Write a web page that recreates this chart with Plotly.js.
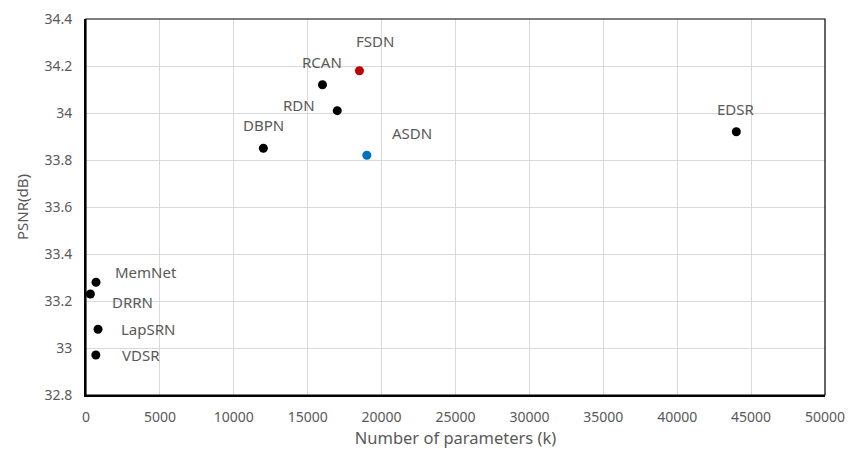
<!DOCTYPE html>
<html>
<head>
<meta charset="utf-8">
<script src="https://cdn.plot.ly/plotly-3.0.1.min.js"></script>
<style>html,body{margin:0;padding:0;background:#fff;}#chart{width:861px;height:454px;}</style>
</head>
<body>
<div id="chart"></div>
<script>
// Data
const models = ["VDSR", "DRRN", "LapSRN", "MemNet", "DBPN", "RCAN", "RDN", "EDSR", "FSDN", "ASDN"];
const params = [665, 297, 813, 677, 12000, 16000, 17000, 44000, 18500, 19000];
const psnr   = [32.97, 33.23, 33.08, 33.28, 33.85, 34.12, 34.01, 33.92, 34.18, 33.82];
const groups = ["other", "other", "other", "other", "other", "other", "other", "other", "fsdn", "asdn"];
const yTicks = [32.8, 33, 33.2, 33.4, 33.6, 33.8, 34, 34.2, 34.4];
const yTickText = ["32.8", "33", "33.2", "33.4", "33.6", "33.8", "34", "34.2", "34.4"];
const xTicks = [0, 5000, 10000, 15000, 20000, 25000, 30000, 35000, 40000, 45000, 50000];

// Styling (positions / colours)
const groupColor = {other: "#000000", fsdn: "#c00000", asdn: "#0070c0"};
const labelShift = {
  VDSR: [45, 0], DRRN: [42, -8], LapSRN: [50, 0], MemNet: [50, 10],
  DBPN: [0, 23], RCAN: [0, 23], RDN: [-38, 6], EDSR: [0, 23],
  FSDN: [16, 30], ASDN: [45, 22]
};

const FONT = "Noto Sans, Open Sans, sans-serif";
const textFont = {family: FONT, size: 15, color: "#595959"};

const trace = {
  type: "scatter",
  mode: "markers",
  x: params,
  y: psnr,
  text: models,
  marker: {size: 9, color: groups.map(g => groupColor[g])},
  hoverinfo: "text+x+y",
  showlegend: false
};

const annotations = models.map((m, i) => ({
  x: params[i], y: psnr[i], xref: "x", yref: "y",
  text: m, showarrow: false,
  xshift: labelShift[m][0], yshift: labelShift[m][1],
  font: textFont
}));

const layout = {
  width: 861, height: 454,
  margin: {l: 86, r: 36, t: 19, b: 59},
  paper_bgcolor: "#ffffff", plot_bgcolor: "#ffffff",
  font: {family: FONT, color: "#595959", size: 14},
  xaxis: {
    range: [0, 50000], tickvals: xTicks, tickformat: "d",
    showgrid: true, gridcolor: "#d9d9d9", gridwidth: 1,
    zeroline: false, showline: true, linecolor: "#000000", linewidth: 2,
    ticks: "", ticklabelstandoff: 8,
    tickfont: {family: FONT, size: 14, color: "#595959"},
    title: {text: "Number of parameters (k)", font: {family: FONT, size: 16.5, color: "#595959"}, standoff: 8}
  },
  yaxis: {
    range: [32.8, 34.4], tickvals: yTicks, ticktext: yTickText,
    showgrid: true, gridcolor: "#d9d9d9", gridwidth: 1,
    zeroline: false, showline: true, linecolor: "#000000", linewidth: 2,
    ticks: "", ticklabelstandoff: 9,
    tickfont: {family: FONT, size: 14, color: "#595959"},
    title: {text: "PSNR(dB)", font: {family: FONT, size: 15, color: "#595959"}, standoff: 12}
  },
  shapes: [{
    type: "rect", xref: "paper", yref: "paper", x0: 0, x1: 1, y0: 0, y1: 1,
    line: {color: "#000000", width: 1.2}, layer: "above"
  }],
  annotations: annotations
};

Plotly.newPlot("chart", [trace], layout, {displayModeBar: false, staticPlot: true});
</script>
</body>
</html>
